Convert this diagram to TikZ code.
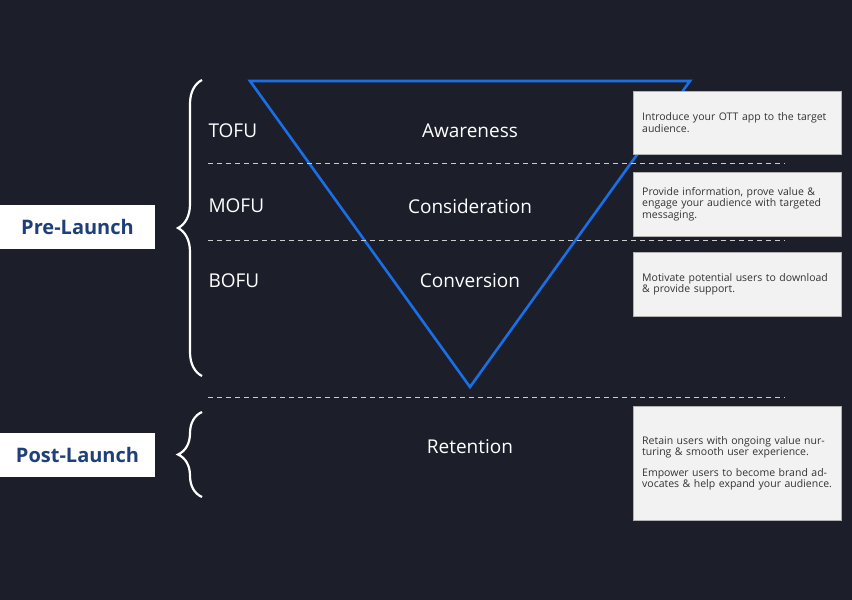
\documentclass[tikz,border=0pt]{standalone}
\usepackage{fontspec}
\setmainfont{Open Sans}
\usetikzlibrary{decorations.pathreplacing,positioning}
\definecolor{bgnavy}{HTML}{1C1F2A}
\definecolor{funnelblue}{HTML}{1A6FE6}
\definecolor{launchblue}{HTML}{1F3F7A}
\definecolor{notegrey}{HTML}{F2F2F2}
\definecolor{notetext}{HTML}{333333}
\tikzset{
  stage/.style={text=white,font=\fontsize{19}{22}\selectfont},
  level/.style={text=white,font=\fontsize{19}{22}\selectfont,anchor=west},
  sep/.style={draw=white!80!black,dashed,dash pattern=on 5pt off 4pt,line width=0.8pt},
  phasebox/.style={fill=white,text=launchblue,font=\bfseries\fontsize{20}{24}\selectfont,
    minimum width=155pt,minimum height=44pt,inner sep=0pt},
  notebox/.style={fill=notegrey,draw=white!70!black,line width=0.4pt,text=notetext,
    font=\fontsize{10.5}{11.5}\selectfont,text width=190pt,align=left,inner xsep=9pt,
    inner ysep=7pt,anchor=north west,minimum width=205pt},
  bracket/.style={draw=white,line width=2.2pt,decorate,decoration={brace,amplitude=24pt}}
}
\begin{document}
\begin{tikzpicture}[x=1pt,y=-1pt]
\fill[bgnavy] (0,0) rectangle (852,600);
\useasboundingbox (0,0) rectangle (852,600);
% funnel
\coordinate (TL) at (250,81);
\coordinate (TR) at (690,81);
\coordinate (TB) at (470,387);
\draw[funnelblue,line width=2.6pt,line join=miter] (TL) -- (TR) -- (TB) -- cycle;
% separators
\draw[sep] (208,163) -- (785,163);
\draw[sep] (208,240) -- (785,240);
\draw[sep] (208,397) -- (785,397);
% levels and stages
\node[level] (tofu) at (205,131) {TOFU};
\node[level] (mofu) at (205,206) {MOFU};
\node[level] (bofu) at (205,281) {BOFU};
\node[stage] (aware) at (470,131) {Awareness};
\node[stage] (consid) at (470,206) {Consideration};
\node[stage] (conv) at (470,281) {Conversion};
\node[stage] (retain) at (470,447) {Retention};
% braces
\draw[bracket] (202,376) -- (202,80);
\draw[bracket] (202,497) -- (202,412);
\node[phasebox] (pre) at (77.5,227) {Pre-Launch};
\node[phasebox] (post) at (77.5,454.5) {Post-Launch};
% notes
\node[notebox,minimum height=63pt] (n1) at (633,91) {Introduce your OTT app to the target audience.};
\node[notebox,minimum height=64pt] (n2) at (633,172) {Provide information, prove value \& engage your audience with targeted messaging.};
\node[notebox,minimum height=64pt] (n3) at (633,252) {Motivate potential users to download \& provide support.};
\node[notebox,minimum height=114pt] (n4) at (633,406) {Retain users with ongoing value nurturing \& smooth user experience.\\[9pt]Empower users to become brand advocates \& help expand your audience.};
\end{tikzpicture}
\end{document}
